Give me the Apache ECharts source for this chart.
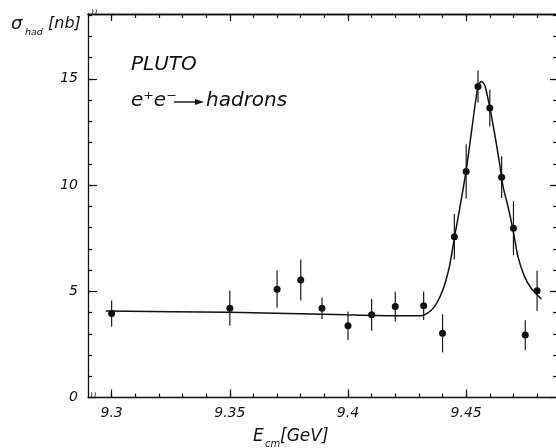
<!DOCTYPE html>
<html>
<head>
<meta charset="utf-8">
<script src="https://cdn.jsdelivr.net/npm/echarts@6/dist/echarts.min.js"></script>
<style>
html,body{margin:0;padding:0;background:#fff;}
#chart{width:556px;height:448px;}
</style>
</head>
<body>
<div id="chart"></div>
<script>
// Measured points (E_cm in GeV, sigma_had in nb, symmetric error)
const energy   = [9.30, 9.35, 9.37, 9.38, 9.389, 9.40, 9.41, 9.42, 9.432, 9.44, 9.445, 9.45, 9.455, 9.46, 9.465, 9.47, 9.475, 9.48];
const sigma    = [3.95, 4.20, 5.10, 5.53, 4.20, 3.38, 3.89, 4.28, 4.32, 3.02, 7.57, 10.64, 14.64, 13.62, 10.37, 7.97, 2.94, 5.02];
const sigmaErr = [0.62, 0.82, 0.88, 0.96, 0.51, 0.67, 0.75, 0.70, 0.67, 0.90, 1.07, 1.28, 0.75, 0.86, 0.98, 1.27, 0.70, 0.95];

// Fitted curve
const fitE     = [9.2975, 9.3496, 9.3992, 9.4199, 9.4309, 9.4330, 9.4366, 9.4401, 9.4429, 9.4451, 9.4479, 9.4500, 9.4521, 9.4550, 9.4564, 9.4578, 9.4599, 9.4620, 9.4641, 9.4656, 9.4677, 9.4698, 9.4719, 9.4747, 9.4775, 9.4818];
const fitSigma = [4.07, 4.01, 3.89, 3.85, 3.85, 3.92, 4.28, 5.06, 6.16, 7.57, 9.30, 10.70, 12.40, 14.64, 14.87, 14.72, 13.70, 12.44, 11.03, 9.93, 8.99, 7.89, 6.63, 5.69, 5.14, 4.64];

// Axis ticks
const xTickValues = [9.3, 9.35, 9.4, 9.45];
const xTickLabels = ['9.3', '9.35', '9.4', '9.45'];
const yTickValues = [0, 5, 10, 15];
const yTickLabels = ['0', '5', '10', '15'];

const X_MIN = 9.29, X_MAX = 9.488, Y_MIN = 0, Y_MAX = 18.05;
const xMinor = []; for (let k = 930; k <= 948; k++) xMinor.push(k / 100);
const yMinor = []; for (let k = 1; k <= 18; k++) yMinor.push(k);

const INK = '#111';
const FONT = '"DejaVu Sans", sans-serif';

function baseX(pos, vals, len, labels) {
  return {
    type: 'value', position: pos, min: X_MIN, max: X_MAX, gridIndex: 0,
    axisLine: { show: labels || pos === 'top', onZero: false, lineStyle: { color: INK, width: 1.3 } },
    axisTick: { show: true, inside: true, length: len, customValues: vals, lineStyle: { color: INK, width: 1.2 } },
    axisLabel: labels ? {
      show: true, customValues: xTickValues, margin: 9,
      formatter: v => { const i = xTickValues.findIndex(t => Math.abs(t - v) < 1e-9); return i >= 0 ? xTickLabels[i] : ''; },
      color: INK, fontFamily: FONT, fontStyle: 'italic', fontSize: 14
    } : { show: false },
    splitLine: { show: false }
  };
}
function baseY(pos, vals, len, labels, line) {
  return {
    type: 'value', position: pos, min: Y_MIN, max: Y_MAX, gridIndex: 0,
    axisLine: { show: line, onZero: false, lineStyle: { color: INK, width: 1.3 } },
    axisTick: { show: true, inside: true, length: len, customValues: vals, lineStyle: { color: INK, width: 1.2 } },
    axisLabel: labels ? {
      show: true, customValues: yTickValues, margin: 10,
      formatter: v => { const i = yTickValues.indexOf(v); return i >= 0 ? yTickLabels[i] : ''; },
      color: INK, fontFamily: FONT, fontStyle: 'italic', fontSize: 14
    } : { show: false },
    splitLine: { show: false }
  };
}

const chart = echarts.init(document.getElementById('chart'), null, { renderer: 'canvas' });
chart.setOption({
  backgroundColor: '#fff',
  animation: false,
  grid: { left: 88, top: 14, width: 468, height: 383.5, containLabel: false },
  xAxis: [
    baseX('bottom', xTickValues, 8, true),
    baseX('bottom', xMinor, 4, false),
    baseX('top', xTickValues, 7, false),
    baseX('top', xMinor, 4, false)
  ],
  yAxis: [
    baseY('left', yTickValues, 9, true, true),
    baseY('left', yMinor, 4, false, false),
    baseY('right', yTickValues, 6, false, false),
    baseY('right', yMinor, 3, false, false)
  ],
  series: [
    {
      type: 'line', xAxisIndex: 0, yAxisIndex: 0,
      data: fitE.map((e, i) => [e, fitSigma[i]]),
      showSymbol: false, smooth: 0.25,
      lineStyle: { color: INK, width: 1.5 }
    },
    {
      type: 'custom', xAxisIndex: 0, yAxisIndex: 0,
      data: energy.map((e, i) => [e, sigma[i], sigmaErr[i]]),
      encode: { x: 0, y: 1 },
      renderItem: function (params, api) {
        const x = api.value(0), y = api.value(1), err = api.value(2);
        const p1 = api.coord([x, y - err]);
        const p2 = api.coord([x, y + err]);
        return { type: 'line', shape: { x1: p1[0], y1: p1[1], x2: p2[0], y2: p2[1] },
                 style: { stroke: '#1a1a1a', lineWidth: 1.2 } };
      }
    },
    {
      type: 'scatter', xAxisIndex: 0, yAxisIndex: 0,
      data: energy.map((e, i) => [e, sigma[i]]),
      symbol: 'circle', symbolSize: 7,
      itemStyle: { color: INK, opacity: 1 }
    }
  ],
  graphic: [
    { type: 'text', left: 11, top: 15, style: { text: 'σ', font: 'italic 18px ' + FONT, fill: INK } },
    { type: 'text', left: 25, top: 28, style: { text: 'had', font: 'italic 9.5px ' + FONT, fill: INK } },
    { type: 'text', left: 48, top: 16, style: { text: '[nb]', font: 'italic 16px ' + FONT, fill: INK } },
    { type: 'text', left: 253, top: 428, style: { text: 'E', font: 'italic 17px ' + FONT, fill: INK } },
    { type: 'text', left: 265, top: 439, style: { text: 'cm', font: 'italic 10px ' + FONT, fill: INK } },
    { type: 'text', left: 280, top: 428, style: { text: '[GeV]', font: 'italic 17px ' + FONT, fill: INK } },
    { type: 'text', left: 131, top: 55, style: { text: 'PLUTO', font: 'italic 20px ' + FONT, fill: INK } },
    { type: 'text', left: 131, top: 91, style: { text: 'e⁺e⁻', font: 'italic 20px ' + FONT, fill: INK } },
    { type: 'line', shape: { x1: 174, y1: 102, x2: 197, y2: 102 }, style: { stroke: INK, lineWidth: 1.4 } },
    { type: 'polygon', shape: { points: [[195, 99], [204, 102], [195, 105]] }, style: { fill: INK } },
    { type: 'text', left: 206, top: 91, style: { text: 'hadrons', font: 'italic 20px ' + FONT, fill: INK } },
    { type: 'text', left: 90, top: 391, style: { text: '≀≀', font: '9px ' + FONT, fill: INK } },
    { type: 'text', left: 91, top: 8, style: { text: '≀≀', font: '9px ' + FONT, fill: INK } }
  ]
});
</script>
</body>
</html>
